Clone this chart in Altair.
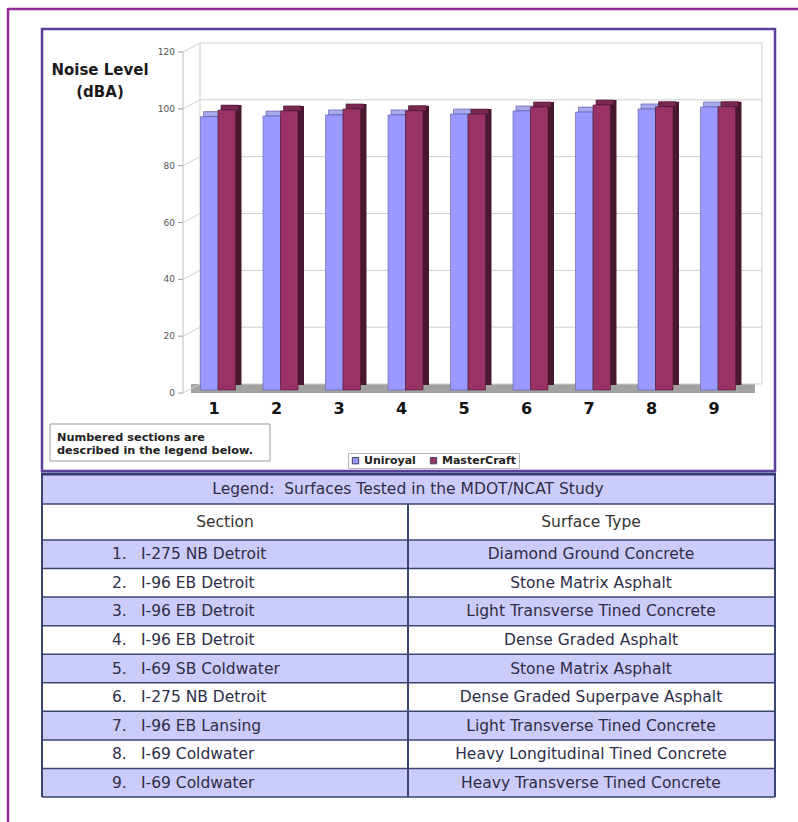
import altair as alt
import pandas as pd

# ---------------- data ----------------
sections = [1, 2, 3, 4, 5, 6, 7, 8, 9]
series = ["Uniroyal", "MasterCraft"]
uniroyal = [96.2, 96.4, 96.8, 96.8, 97.1, 98.2, 97.8, 98.9, 99.6]
mastercraft = [98.5, 98.2, 98.9, 98.3, 97.1, 99.6, 100.3, 99.7, 99.7]
y_ticks = [0, 20, 40, 60, 80, 100, 120]
y_title = ["Noise Level", "(dBA)"]
note_lines = ["Numbered sections are", "described in the legend below."]
table_title = "Legend:\u00a0 Surfaces Tested in the MDOT/NCAT Study"
table_headers = ["Section", "Surface Type"]
section_names = ["I-275 NB Detroit", "I-96 EB Detroit", "I-96 EB Detroit",
                 "I-96 EB Detroit", "I-69 SB Coldwater", "I-275 NB Detroit",
                 "I-96 EB Lansing", "I-69 Coldwater", "I-69 Coldwater"]
surface_types = ["Diamond Ground Concrete", "Stone Matrix Asphalt",
                 "Light Transverse Tined Concrete", "Dense Graded Asphalt",
                 "Stone Matrix Asphalt", "Dense Graded Superpave Asphalt",
                 "Light Transverse Tined Concrete",
                 "Heavy Longitudinal Tined Concrete",
                 "Heavy Transverse Tined Concrete"]

FONT = "DejaVu Sans"
LAV = "#ccccfa"
LINE = "#3a4670"
TXT = "#2e2e48"
TFS = 15.5

bars = pd.DataFrame({
    "sec": sections * 2,
    "tire": [series[0]] * len(sections) + [series[1]] * len(sections),
    "val": uniroyal + mastercraft,
})
ticks = pd.DataFrame({"v": y_ticks})
one = pd.DataFrame({"o": [0]})
span = pd.DataFrame({"lo": [y_ticks[0]], "hi": [y_ticks[-1]]})

X = alt.Scale(domain=[0.5, 9.5], range=[186.75, 749.25], nice=False, zero=False)
Y = alt.Scale(domain=[0, 120], range=[393, 52], nice=False, zero=False)


def xq(f):
    return alt.X(f, type="quantitative", scale=X, axis=None)


def yq(f):
    return alt.Y(f, type="quantitative", scale=Y, axis=None)


# ---------------- chart part ----------------
floor = alt.Chart(span).mark_rect(color="#a2a2a2", yOffset=0, y2Offset=-9).encode(
    x=alt.value(191), x2=alt.value(755), y=yq("lo"), y2=alt.Y2("lo"))

grid = alt.Chart(ticks).mark_rule(color="#cfcfcf", strokeWidth=1, yOffset=-9, y2Offset=-9).encode(
    x=alt.value(200), x2=alt.value(762), y=yq("v"), y2=alt.Y2("v"))

side_grid = alt.Chart(ticks).mark_rule(color="#cfcfcf", strokeWidth=1, y2Offset=-9).encode(
    x=alt.value(183), x2=alt.value(200), y=yq("v"), y2=alt.Y2("v"))

tick_marks = alt.Chart(ticks).mark_rule(color="#999999", strokeWidth=1).encode(
    x=alt.value(178), x2=alt.value(183), y=yq("v"))

front_axis = alt.Chart(span).mark_rule(color="#bdbdbd", strokeWidth=1).encode(
    x=alt.value(183), y=yq("lo"), y2=alt.Y2("hi"))
back_left = alt.Chart(span).mark_rule(color="#cfcfcf", strokeWidth=1, yOffset=-9, y2Offset=-9).encode(
    x=alt.value(200), y=yq("lo"), y2=alt.Y2("hi"))
back_right = alt.Chart(span).mark_rule(color="#cfcfcf", strokeWidth=1, yOffset=-9, y2Offset=-9).encode(
    x=alt.value(762), y=yq("lo"), y2=alt.Y2("hi"))

tick_labels = alt.Chart(ticks).mark_text(
    align="right", baseline="middle", font=FONT, fontSize=9, color="#555555").encode(
    x=alt.value(175), y=yq("v"), text=alt.Text("v:Q"))

bar_base = alt.Chart(bars).transform_calculate(
    x1="datum.tire == 'Uniroyal' ? datum.sec - 0.28 : datum.sec",
    x2="datum.tire == 'Uniroyal' ? datum.sec : datum.sec + 0.28",
    base="0",
)
is_u = "datum.tire == 'Uniroyal'"

bar_side = bar_base.mark_rect(xOffset=6, x2Offset=6, yOffset=-8, y2Offset=-8).encode(
    x=xq("x1"), x2=alt.X2("x2"), y=yq("val"), y2=alt.Y2("base"),
    color=alt.condition(is_u, alt.value("#5d5da8"), alt.value("#4a1730")))

bar_top = bar_base.mark_rect(xOffset=3, x2Offset=3, yOffset=-8, y2Offset=-3,
                             strokeWidth=0.6).encode(
    x=xq("x1"), x2=alt.X2("x2"), y=yq("val"), y2=alt.Y2("val"),
    color=alt.condition(is_u, alt.value("#a9a9ee"), alt.value("#7a2852")),
    stroke=alt.condition(is_u, alt.value("#55559a"), alt.value("#4a1730")))

bar_front = bar_base.mark_rect(yOffset=-3, y2Offset=-3, strokeWidth=0.6).encode(
    x=xq("x1"), x2=alt.X2("x2"), y=yq("val"), y2=alt.Y2("base"),
    color=alt.Color("tire:N", scale=alt.Scale(domain=series, range=["#9999ff", "#993366"]),
                    legend=alt.Legend(
                        title=None, orient="none", legendX=348, legendY=453,
                        direction="horizontal", symbolType="square", symbolSize=40,
                        symbolStrokeWidth=1, symbolStrokeColor="#444466",
                        labelFont=FONT, labelFontSize=11, labelFontWeight="bold",
                        labelColor="#222222", labelOffset=3, columnPadding=12,
                        padding=2, fillColor="white", strokeColor="#b5b5b5")),
    stroke=alt.condition(is_u, alt.value("#5a5aa8"), alt.value("#4a1730")))

cat_labels = alt.Chart(pd.DataFrame({"sec": sections})).mark_text(
    font=FONT, fontSize=16, fontWeight="bold", color="#111111", baseline="middle", dx=-4).encode(
    x=xq("sec"), y=alt.value(409), text=alt.Text("sec:Q"))

ytitle = alt.Chart(one).mark_text(
    font=FONT, fontSize=15, fontWeight="bold", color="#1a1a1a", align="center",
    baseline="alphabetic", lineHeight=22).encode(
    x=alt.value(100), y=alt.value(75), text=alt.value(y_title))

note_box = alt.Chart(one).mark_rect(fill="white", stroke="#9a9a9a", strokeWidth=1).encode(
    x=alt.value(50), x2=alt.value(270), y=alt.value(424), y2=alt.value(461))
note_text = alt.Chart(one).mark_text(
    font=FONT, fontSize=11.3, fontWeight="bold", color="#222222", align="left",
    baseline="alphabetic", lineHeight=13).encode(
    x=alt.value(57), y=alt.value(441), text=alt.value(note_lines))

chart_part = alt.layer(
    floor, grid, side_grid, tick_marks, front_axis, back_left, back_right,
    tick_labels, bar_side, bar_top, bar_front, cat_labels, ytitle, note_box, note_text)

# ---------------- table part ----------------
TY = alt.Scale(domain=[0, 1, 2, 11], range=[474, 504, 540, 797], nice=False, zero=False)


def ty(f):
    return alt.Y(f, type="quantitative", scale=TY, axis=None)


n_rows = 2 + len(section_names)
rows = pd.DataFrame({"r": list(range(n_rows))})
bounds = pd.DataFrame({"b": list(range(n_rows + 1))})
tab = pd.DataFrame({"k": sections, "name": section_names, "surf": surface_types})

row_fill = alt.Chart(rows).transform_calculate(r1="datum.r + 1").mark_rect().encode(
    x=alt.value(42), x2=alt.value(775), y=ty("r"), y2=alt.Y2("r1"),
    color=alt.condition("datum.r % 2 == 0", alt.value(LAV), alt.value("white")))

hlines = alt.Chart(bounds).mark_rule(color=LINE, strokeWidth=1.5).encode(
    x=alt.value(42), x2=alt.value(775), y=ty("b"))
top_line = alt.Chart(pd.DataFrame({"b": [0]})).mark_rule(color="#303c78", strokeWidth=3).encode(
    x=alt.value(41), x2=alt.value(776), y=ty("b"))

vspan = pd.DataFrame({"lo": [0], "hi": [n_rows]})
vspan_in = pd.DataFrame({"lo": [1], "hi": [n_rows]})
vleft = alt.Chart(vspan).mark_rule(color=LINE, strokeWidth=2).encode(
    x=alt.value(42), y=ty("lo"), y2=alt.Y2("hi"))
vright = alt.Chart(vspan).mark_rule(color=LINE, strokeWidth=2).encode(
    x=alt.value(775), y=ty("lo"), y2=alt.Y2("hi"))
vmid = alt.Chart(vspan_in).mark_rule(color=LINE, strokeWidth=2).encode(
    x=alt.value(408), y=ty("lo"), y2=alt.Y2("hi"))

title_txt = alt.Chart(one).transform_calculate(rc="0.5").mark_text(
    font=FONT, fontSize=TFS, color=TXT, align="center", baseline="middle").encode(
    x=alt.value(408), y=ty("rc"), text=alt.value(table_title))

hdr = pd.DataFrame({"h": table_headers, "col": [0, 1]})
hdr_txt = alt.Chart(hdr).transform_calculate(rc="1.5").mark_text(
    font=FONT, fontSize=TFS, color="#333333", align="center", baseline="middle").encode(
    x=alt.X("col:Q", scale=alt.Scale(domain=[0, 1], range=[225, 591]), axis=None),
    y=ty("rc"), text="h:N")

tab_base = alt.Chart(tab).transform_calculate(rc="datum.k + 1.5", num="datum.k + '.'")
num_txt = tab_base.mark_text(font=FONT, fontSize=TFS, color=TXT, align="left",
                             baseline="middle").encode(
    x=alt.value(112), y=ty("rc"), text="num:N")
name_txt = tab_base.mark_text(font=FONT, fontSize=TFS, color=TXT, align="left",
                              baseline="middle").encode(
    x=alt.value(141), y=ty("rc"), text="name:N")
surf_txt = tab_base.mark_text(font=FONT, fontSize=TFS, color=TXT, align="center",
                              baseline="middle").encode(
    x=alt.value(591), y=ty("rc"), text="surf:N")

table_part = alt.layer(row_fill, hlines, vleft, vright, vmid, top_line,
                       title_txt, hdr_txt, num_txt, name_txt, surf_txt)

# ---------------- frames ----------------
chart_box = alt.Chart(one).mark_rect(fillOpacity=0, stroke="#5b3f9a", strokeWidth=2.5).encode(
    x=alt.value(42), x2=alt.value(775), y=alt.value(29), y2=alt.value(471))
outer_top = alt.Chart(one).mark_rule(color="#932a93", strokeWidth=2.5).encode(
    x=alt.value(8), x2=alt.value(798), y=alt.value(9))
outer_left = alt.Chart(one).mark_rule(color="#932a93", strokeWidth=2.5).encode(
    x=alt.value(8), y=alt.value(8), y2=alt.value(822))
frames = alt.layer(chart_box, outer_top, outer_left)

chart = alt.layer(chart_part, table_part, frames).resolve_scale(
    x="independent", y="independent"
).properties(
    width=798, height=822, padding=0,
    autosize=alt.AutoSizeParams(type="none"), background="white",
).configure_view(stroke=None)

chart.save("out.html", embed_options={"renderer": "svg", "actions": False})
